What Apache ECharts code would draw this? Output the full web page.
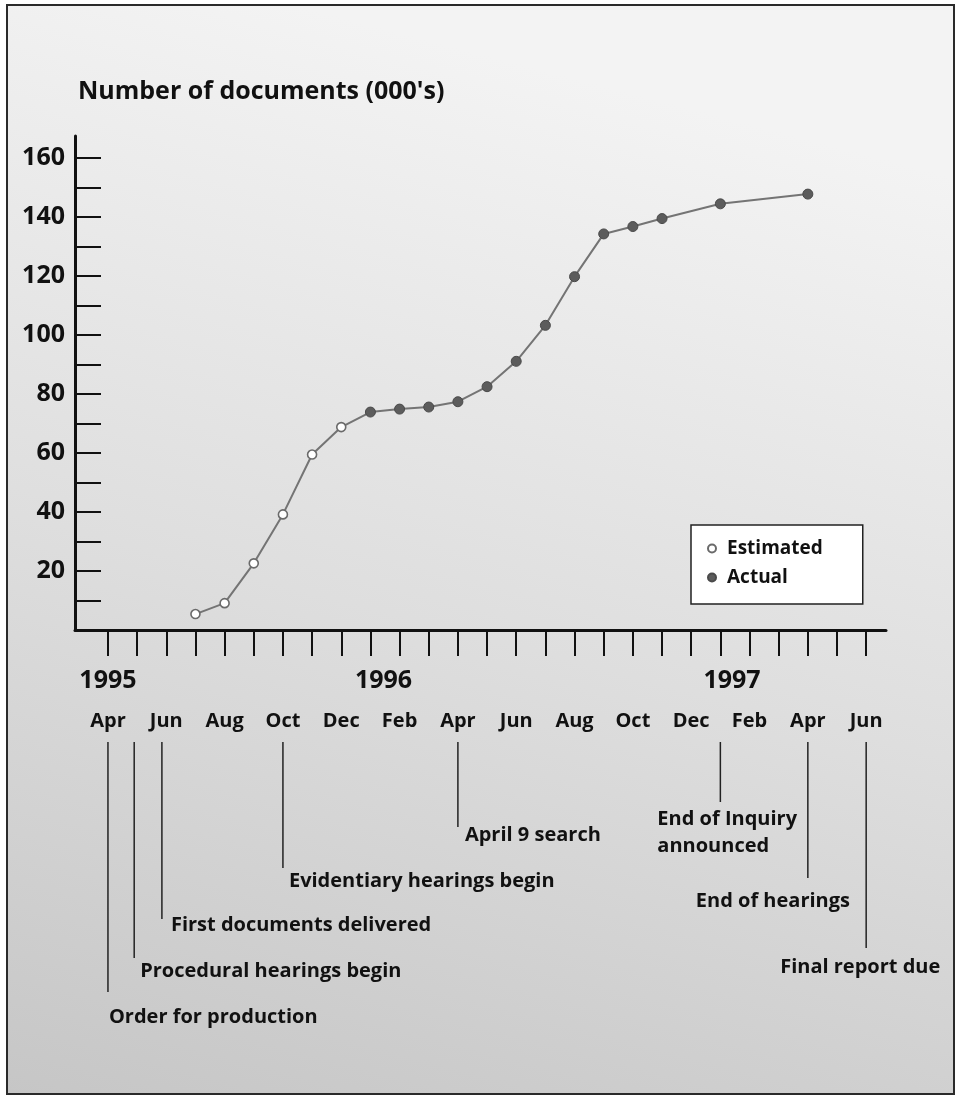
<!DOCTYPE html>
<html>
<head>
<meta charset="utf-8">
<script src="https://cdn.jsdelivr.net/npm/echarts@6/dist/echarts.min.js"></script>
<style>
html,body{margin:0;padding:0;background:#fff;}
#chart{width:958px;height:1101px;}
</style>
</head>
<body>
<div id="chart"></div>
<script>
// ---- data ----
// x positions are months counted from April 1995 (0 = Apr 1995, 26 = Jun 1997)
const pointMonths = [3, 4, 5, 6, 7, 8, 9, 10, 11, 12, 13, 14, 15, 16, 17, 18, 19, 21, 24];
const documents   = [5.4, 9.1, 22.6, 39.2, 59.5, 68.8, 73.9, 74.9, 75.6, 77.4, 82.5, 91.1, 103.3, 119.8, 134.3, 136.8, 139.5, 144.5, 147.8];
const estimatedCount = 6; // Jul–Dec 1995 are estimates, the rest are actual

const monthTickValues = [0,1,2,3,4,5,6,7,8,9,10,11,12,13,14,15,16,17,18,19,20,21,22,23,24,25,26];
const monthLabelValues = [0,2,4,6,8,10,12,14,16,18,20,22,24,26];
const monthLabels = ['Apr','Jun','Aug','Oct','Dec','Feb','Apr','Jun','Aug','Oct','Dec','Feb','Apr','Jun'];
const yearLabels = ['1995','1996','1997'];
const yearLabelValues = [0, 9.45, 21.4];

const yTickValues = [10,20,30,40,50,60,70,80,90,100,110,120,130,140,150,160];
const yLabelValues = [20,40,60,80,100,120,140,160];

const eventNames = ['Order for production','Procedural hearings begin','First documents delivered','Evidentiary hearings begin','April 9 search','End of Inquiry\nannounced','End of hearings','Final report due'];
const eventMonths = [0, 0.9, 1.85, 6, 12, 21, 24, 26];

// ---- layout for the event callouts (pixels below the callout band top) ----
const eventLayout = [
  {lineEnd: 250, textY: 275, dx: 1,    align: 'left'},
  {lineEnd: 216, textY: 229, dx: 6,    align: 'left'},
  {lineEnd: 177, textY: 183, dx: 9,    align: 'left'},
  {lineEnd: 126, textY: 139, dx: 6,    align: 'left'},
  {lineEnd: 85,  textY: 93,  dx: 7,    align: 'left'},
  {lineEnd: 60,  textY: 91,  dx: -63,  align: 'left'},
  {lineEnd: 136, textY: 159, dx: -112, align: 'left'},
  {lineEnd: 206, textY: 225, dx: -86,  align: 'left'}
];

const FONT = '"Open Sans", "Noto Sans", sans-serif';
const xMin = -1.13, xMax = 26.68;

const linePts = pointMonths.map((m, i) => [m, documents[i]]);
const estPts = linePts.slice(0, estimatedCount);
const actPts = linePts.slice(estimatedCount);
const eventData = eventMonths.map((m, i) => [m, eventLayout[i].lineEnd, eventLayout[i].textY, eventLayout[i].dx]);

const chart = echarts.init(document.getElementById('chart'), null, {renderer: 'canvas'});

const option = {
  animation: false,
  backgroundColor: '#ffffff',
  graphic: [{
    type: 'rect',
    z: -100,
    shape: {x: 7, y: 5, width: 947, height: 1089},
    style: {
      fill: new echarts.graphic.LinearGradient(0.3, 0, 0, 1, [
        {offset: 0, color: '#f3f3f3'},
        {offset: 0.5, color: '#dedede'},
        {offset: 1, color: '#c6c6c6'}
      ]),
      stroke: '#2a2a2a',
      lineWidth: 2
    }
  }],
  title: {
    text: "Number of documents (000's)",
    left: 78, top: 79, padding: 0,
    textStyle: {fontFamily: FONT, fontSize: 25, fontWeight: 'bold', color: '#111'}
  },
  legend: {
    data: ['Estimated', 'Actual'],
    orient: 'vertical',
    left: 691, top: 525,
    backgroundColor: '#ffffff',
    borderColor: '#222',
    borderWidth: 1.5,
    borderRadius: 0,
    padding: [14, 40, 17, 16],
    itemWidth: 20, itemHeight: 8, itemGap: 10,
    icon: 'circle',
    selectedMode: false,
    textStyle: {fontFamily: FONT, fontSize: 19, fontWeight: 'bold', color: '#111'}
  },
  grid: [
    {left: 75, right: 72, top: 136, bottom: 471, containLabel: false},
    {left: 75, right: 72, top: 742, height: 300, containLabel: false}
  ],
  xAxis: [
    {
      type: 'value', gridIndex: 0, min: xMin, max: xMax,
      axisLine: {show: true, onZero: false, lineStyle: {color: '#111', width: 3}},
      axisTick: {show: true, customValues: monthTickValues, length: 26, inside: false, lineStyle: {color: '#111', width: 2}},
      axisLabel: {
        show: true, customValues: monthLabelValues, margin: 81,
        formatter: v => monthLabels[monthLabelValues.indexOf(v)] || '',
        fontFamily: FONT, fontSize: 20, fontWeight: 'bold', color: '#111'
      },
      splitLine: {show: false}
    },
    {
      type: 'value', gridIndex: 0, min: xMin, max: xMax, position: 'bottom',
      axisLine: {show: false}, axisTick: {show: false}, splitLine: {show: false},
      axisLabel: {
        show: true, customValues: yearLabelValues, margin: 38,
        formatter: v => yearLabels[yearLabelValues.indexOf(v)] || '',
        fontFamily: FONT, fontSize: 25, fontWeight: 'bold', color: '#111'
      }
    },
    {
      type: 'value', gridIndex: 1, min: xMin, max: xMax, show: false
    }
  ],
  yAxis: [
    {
      type: 'value', gridIndex: 0, min: 0, max: 167.5,
      axisLine: {show: true, onZero: false, lineStyle: {color: '#111', width: 3}},
      axisTick: {show: true, customValues: yTickValues, inside: true, length: 26, lineStyle: {color: '#111', width: 2}},
      axisLabel: {
        show: true, customValues: yLabelValues, margin: 10,
        fontFamily: FONT, fontSize: 25, fontWeight: 'bold', color: '#111'
      },
      splitLine: {show: false}
    },
    {
      type: 'value', gridIndex: 1, min: 0, max: 300, inverse: true, show: false
    }
  ],
  series: [
    {
      name: 'Documents', type: 'line', xAxisIndex: 0, yAxisIndex: 0,
      data: linePts, showSymbol: false, symbol: 'none', z: 2,
      lineStyle: {color: '#747474', width: 2}
    },
    {
      name: 'Estimated', type: 'scatter', xAxisIndex: 0, yAxisIndex: 0,
      data: estPts, symbol: 'circle', symbolSize: 9, z: 3,
      itemStyle: {color: '#ffffff', borderColor: '#6a6a6a', borderWidth: 1.6, opacity: 1}
    },
    {
      name: 'Actual', type: 'scatter', xAxisIndex: 0, yAxisIndex: 0,
      data: actPts, symbol: 'circle', symbolSize: 10, z: 3,
      itemStyle: {color: '#5c5c5c', borderColor: '#4a4a4a', borderWidth: 1, opacity: 1}
    },
    {
      name: 'Events', type: 'custom', xAxisIndex: 2, yAxisIndex: 1,
      data: eventData, silent: true, clip: false,
      renderItem: function (params, api) {
        const x = api.value(0);
        const top = api.coord([x, 0]);
        const end = api.coord([x, api.value(1)]);
        const tp = api.coord([x, api.value(2)]);
        const i = params.dataIndex;
        return {
          type: 'group',
          children: [
            {type: 'line', shape: {x1: top[0], y1: top[1], x2: end[0], y2: end[1]},
             style: {stroke: '#222', lineWidth: 1.5}},
            {type: 'text', x: tp[0] + api.value(3), y: tp[1],
             style: {text: eventNames[i], fill: '#111', fontFamily: FONT, fontSize: 20, fontWeight: 'bold',
                     align: eventLayout[i].align, verticalAlign: 'middle', lineHeight: 27}}
          ]
        };
      }
    }
  ]
};
chart.setOption(option);
</script>
</body>
</html>
